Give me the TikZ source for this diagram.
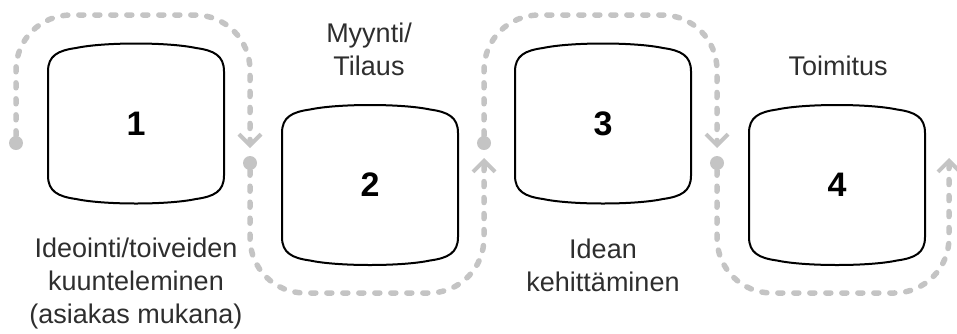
\documentclass[tikz,border=0pt]{standalone}
\usepackage{fontspec}
\setmainfont{Liberation Sans}
\usetikzlibrary{arrows.meta}
\definecolor{flowgray}{HTML}{C4C4C4}
\definecolor{labelgray}{HTML}{2E2E2E}

% outline of a step card, bowed at top and bottom
\newcommand\cardoutline[1]{%
  \draw[cardline, shift={(#1.center)}]
    (-88,-52) -- (-88,52)
    .. controls (-88,68) and (-78,73) .. (-60,75.5)
    .. controls (-32,81.5) and (32,81.5) .. (60,75.5)
    .. controls (78,73) and (88,68) .. (88,52)
    -- (88,-52)
    .. controls (88,-68) and (78,-73) .. (60,-75.5)
    .. controls (32,-81.5) and (-32,-81.5) .. (-60,-75.5)
    .. controls (-78,-73) and (-88,-68) .. (-88,-52) -- cycle;}

\tikzset{
  stepcard/.style={minimum width=176pt, minimum height=163pt, inner sep=0pt,
    font=\fontsize{34}{34}\selectfont\bfseries},
  cardline/.style={draw=black, line width=2pt},
  flow/.style={draw=flowgray, line width=5.5pt, line cap=round,
    dash pattern=on 5pt off 11pt, rounded corners=55pt,
    -{Straight Barb[length=11pt, width=22pt, line width=4pt]}},
  flowdot/.style={circle, fill=flowgray, inner sep=0pt, minimum size=14pt},
  caption/.style={align=center, text=labelgray, inner sep=0pt,
    font=\fontsize{27}{33}\selectfont},
}

\begin{document}
\begin{tikzpicture}[x=1pt, y=-1pt]
  \useasboundingbox (0,0) rectangle (957,333);

  % Steps
  \node[stepcard] (s1) at (136,123.5) {1};
  \node[stepcard] (s2) at (370,185) {2};
  \node[stepcard] (s3) at (603,123.5) {3};
  \node[stepcard] (s4) at (837,185) {4};
  \cardoutline{s1}
  \cardoutline{s2}
  \cardoutline{s3}
  \cardoutline{s4}

  % Captions (base = last line)
  \node[caption, anchor=base] (c1) at (136,323) {Ideointi/toiveiden\\kuunteleminen\\(asiakas mukana)};
  \node[caption, anchor=base] (c2) at (369,75) {Myynti/\\Tilaus};
  \node[caption, anchor=base] (c3) at (603,291) {Idean\\kehittäminen};
  \node[caption, anchor=base] (c4) at (838,75) {Toimitus};

  % Flow between the steps
  \coordinate (top) at (0,15);
  \coordinate (bottom) at (0,293);
  \node[flowdot] (d1) at (16,143) {};
  \node[flowdot] (d2) at (250,163) {};
  \node[flowdot] (d3) at (484,143) {};
  \node[flowdot] (d4) at (717,163) {};
  \coordinate (t1) at (250,148);
  \coordinate (t2) at (484,158);
  \coordinate (t3) at (717,148);
  \coordinate (t4) at (949,158);

  \draw[flow] (d1) -- (d1 |- top) -- (t1 |- top) -- (t1);
  \draw[flow] (d2) -- (d2 |- bottom) -- (t2 |- bottom) -- (t2);
  \draw[flow] (d3) -- (d3 |- top) -- (t3 |- top) -- (t3);
  \draw[flow] (d4) -- (d4 |- bottom) -- (t4 |- bottom) -- (t4);
\end{tikzpicture}
\end{document}
